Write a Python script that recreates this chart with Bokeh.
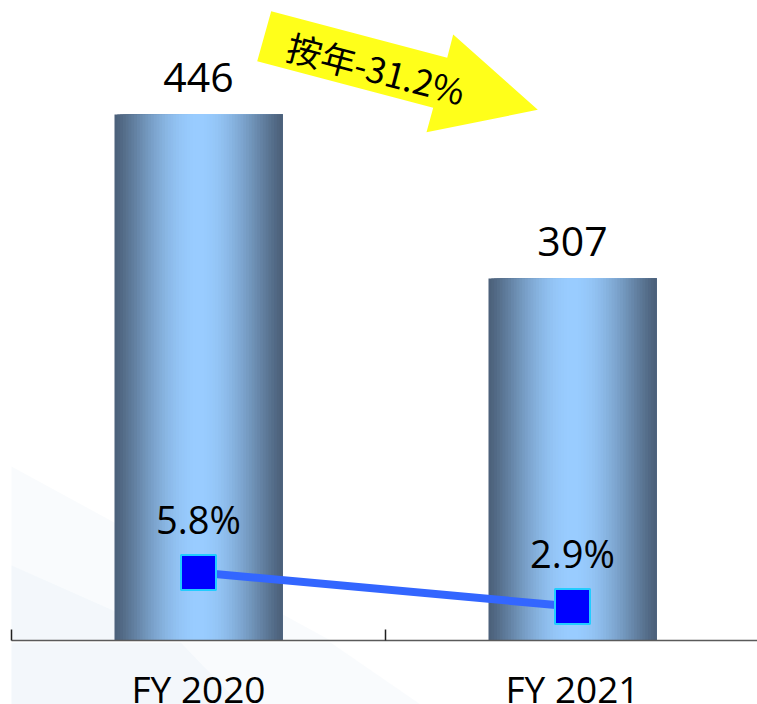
import numpy as np
from bokeh.plotting import figure
from bokeh.layouts import column
from bokeh.models import (Range1d, LinearAxis, FixedTicker, PolyAnnotation, Label)
from bokeh.embed import file_html
from bokeh.resources import INLINE
from bokeh.core.properties import value

# ---------------- data ----------------
categories = ["FY 2020", "FY 2021"]
revenue = [446, 307]
margin_pct = [5.8, 2.9]
revenue_labels = ["446", "307"]
margin_labels = ["5.8%", "2.9%"]
change_label = "按年-31.2%"

# ---------------- layout helpers (page pixels) ----------------
W = 757
H_MAIN = 642
H_LAB = 704 - H_MAIN
X0, XS = 11, 374.0          # page px of x=0, px per category
Y0, YS = 640, 526.0 / 446   # page px of y=0, px per unit
Y2S = 11.72                 # px per percent point
TOP = 8

def dx(px):
    return (px - X0) / XS

def dy(py):
    return (Y0 - py) / YS

x_range = Range1d(0, (W - X0) / XS)
y_end = (Y0 - TOP) / YS
y2_end = (Y0 - TOP) / Y2S

p = figure(width=W, height=H_MAIN, output_backend="svg", toolbar_location=None,
           x_range=x_range, y_range=Range1d(0, y_end),
           x_axis_location=None, y_axis_location=None,
           min_border_left=X0, min_border_right=0, min_border_top=TOP,
           min_border_bottom=H_MAIN - Y0)
p.extra_y_ranges = {"pct": Range1d(0, y2_end)}
p.grid.visible = False
p.outline_line_color = None
p.background_fill_color = "white"
p.border_fill_color = "white"

xc = [i + 0.5 for i in range(len(categories))]

# ---------------- faint background wash (decoration) ----------------
WASH = "#e6f0f9"
wash1 = [(0, 460), (330, 640), (0, 640)]
wash2 = [(0, 560), (180, 640), (0, 640)]
for poly, a in ((wash1, 0.25), (wash2, 0.3)):
    p.patch([dx(u) for u, v in poly], [dy(v) for u, v in poly],
            fill_color=WASH, fill_alpha=a, line_color=None, level="underlay")

# ---------------- gradient (cylinder) bars ----------------
dark = np.array([75, 96, 121])
light = np.array([153, 204, 255])
hw = 84 / XS
N = 60
L, R, T, C = [], [], [], []
for c, v in zip(xc, revenue):
    step = 2 * hw / N
    for k in range(N):
        left = c - hw + k * step
        mid = left + step / 2
        t = min(abs(mid - c) / hw, 1.0)
        f = np.cos(np.pi / 2 * t) ** 1.2
        col = dark + (light - dark) * f
        L.append(left)
        R.append(c + hw)
        T.append(v)
        C.append("#%02x%02x%02x" % tuple(int(round(a)) for a in col))
p.quad(left=L, right=R, bottom=0, top=T, fill_color=C, line_color=None)

# ---------------- margin line ----------------
p.line(xc, margin_pct, y_range_name="pct", line_color="#3366ff", line_width=8)
p.scatter(xc, margin_pct, y_range_name="pct", marker="square", size=35,
          fill_color="#0000ff", line_color="#22ccff", line_width=2)

# ---------------- value labels ----------------
p.text(xc, revenue, text=revenue_labels, text_align="center",
       text_baseline="middle", y_offset=-37, text_font=value("Open Sans"),
       text_font_size="41px", text_color="black")
p.text(xc, margin_pct, text=margin_labels, y_range_name="pct",
       text_align="center", text_baseline="middle", y_offset=-54,
       text_font=value("Open Sans"), text_font_size="38px", text_color="black")

# ---------------- x axis (line + inward ticks at category edges) ----------------
ax = LinearAxis(ticker=FixedTicker(ticks=[], minor_ticks=[0, 1, 2]))
ax.major_label_text_font_size = "0px"
ax.major_label_standoff = 0
ax.major_tick_in = 0
ax.major_tick_out = 0
ax.minor_tick_in = 11
ax.minor_tick_out = 0
ax.axis_line_color = "#5a5a5a"
ax.axis_line_width = 1.5
ax.minor_tick_line_color = "#202020"
ax.minor_tick_line_width = 1.5
p.add_layout(ax, "below")

# ---------------- yellow arrow annotation ----------------
arrow_px = [(270.7, 10.7), (446.7, 57.3), (452.7, 34.0), (537.3, 109.3),
            (426.0, 131.7), (432.7, 107.3), (256.7, 60.7)]
p.add_layout(PolyAnnotation(xs=[dx(a) for a, b in arrow_px],
                            ys=[dy(b) for a, b in arrow_px],
                            fill_color="#ffff1a", fill_alpha=1.0,
                            line_color=None))
p.add_layout(Label(x=dx(376), y=dy(67), text=change_label, angle=-0.258,
                   text_align="center", text_baseline="middle",
                   text_font="Noto Sans CJK SC", text_font_size="35px",
                   text_color="black"))

# ---------------- category labels strip ----------------
p2 = figure(width=W, height=H_LAB, output_backend="svg", toolbar_location=None,
            x_range=x_range, y_range=Range1d(0, H_LAB),
            x_axis_location=None, y_axis_location=None,
            min_border_left=X0, min_border_right=0, min_border_top=0,
            min_border_bottom=0)
p2.grid.visible = False
p2.outline_line_color = None
p2.background_fill_color = "white"
p2.border_fill_color = "white"
wash3 = [(0, 0), (330, 0), (420, H_LAB), (0, H_LAB)]
wash4 = [(0, 0), (180, 0), (240, H_LAB), (0, H_LAB)]
for poly, a in ((wash3, 0.25), (wash4, 0.3)):
    p2.patch([dx(u) for u, v in poly], [H_LAB - v for u, v in poly],
             fill_color=WASH, fill_alpha=a, line_color=None, level="underlay")
p2.text(xc, [704 - 688] * len(xc), text=categories, text_align="center",
        text_baseline="middle", text_font=value("Open Sans"),
        text_font_size="37px", text_color="black")

layout = column(p, p2, spacing=0)
open("out.html", "w").write(file_html(layout, INLINE))
